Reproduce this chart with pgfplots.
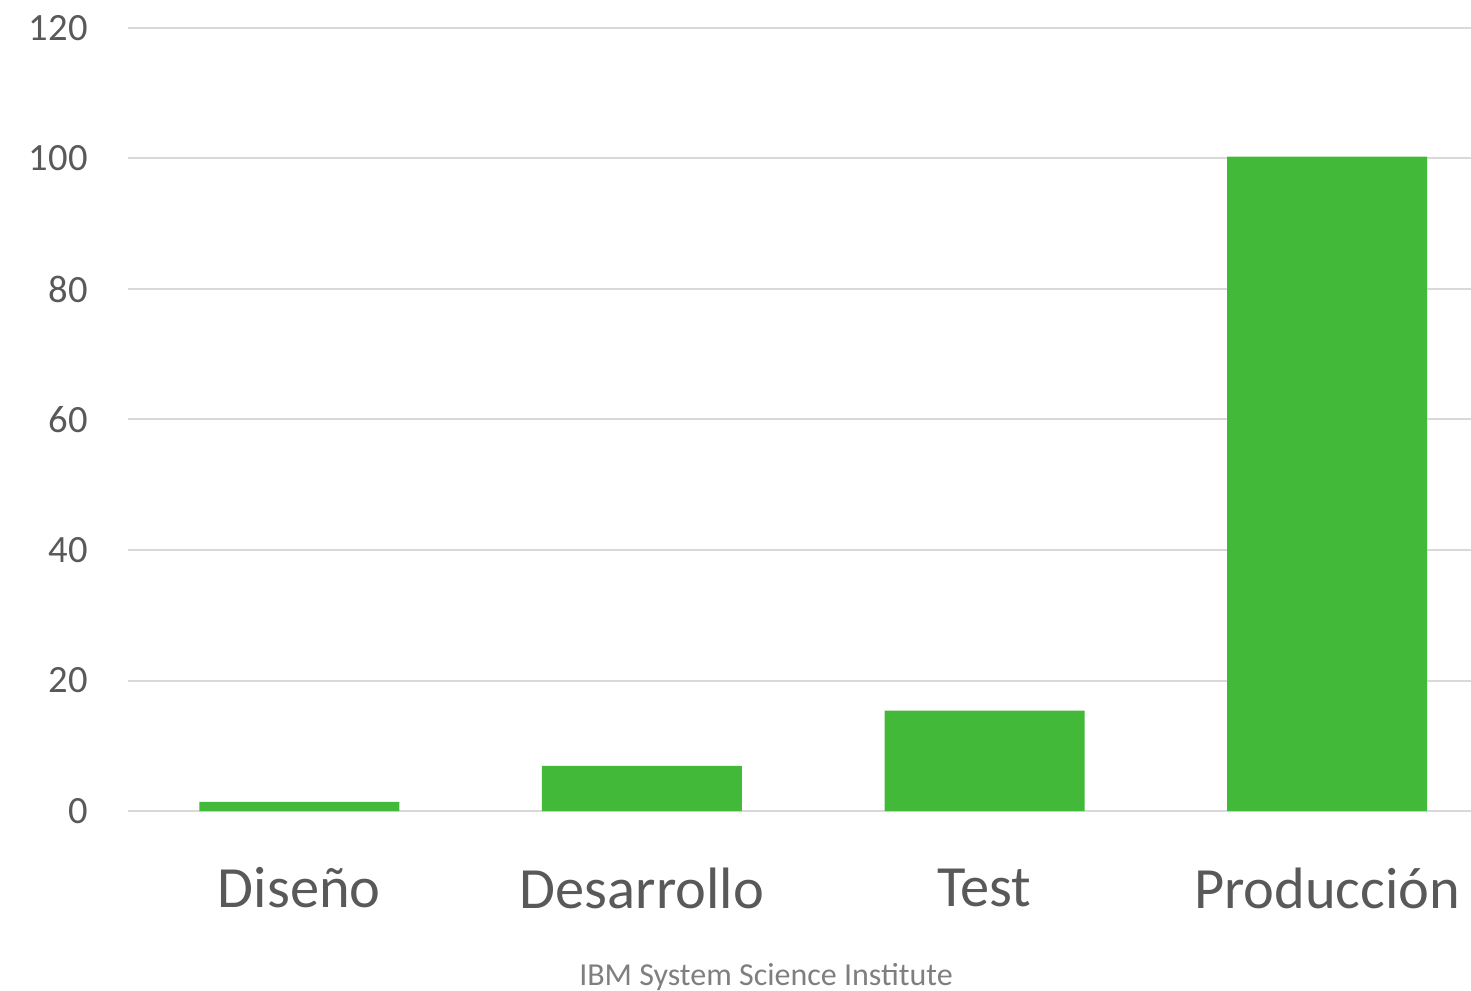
\documentclass[border=0pt]{standalone}
\usepackage{fontspec}
\setmainfont{Carlito}
\usepackage{pgfplots}
\pgfplotsset{compat=1.18}
\definecolor{bargreen}{HTML}{43B939}
\definecolor{txtgray}{HTML}{595959}
\definecolor{capgray}{HTML}{7F7F7F}
\definecolor{gridgray}{HTML}{D9D9D9}
\begin{document}
\begin{tikzpicture}
\useasboundingbox (-64bp,-90bp) rectangle (671.5bp,405.5bp);
\begin{axis}[
    at={(0,0)}, anchor=south west,
    scale only axis,
    width=671.5bp, height=391.5bp,
    xmin=-0.5, xmax=3.42,
    ymin=0, ymax=120,
    ytick={0,20,...,120},
    xtick={0,1,2,3},
    xticklabels={Diseño,Desarrollo,Test,Producción},
    axis line style={draw=none},
    major tick length=0pt,
    ymajorgrids,
    grid style={gridgray, line width=1bp},
    /pgf/number format/assume math mode=true,
    yticklabel style={font=\fontsize{19.3bp}{22bp}\selectfont, text=txtgray, anchor=east, inner sep=0pt, xshift=-20bp},
    xticklabel style={font=\fontsize{29.2bp}{34bp}\selectfont, text=txtgray, anchor=center, inner sep=0pt, yshift=-38.5bp},
    clip=false,
]
\addplot[ybar, bar width=100bp, fill=bargreen, draw=none] coordinates {
    (0,1.4) (1,6.9) (2,15.4) (3,100.3)
};
\end{axis}
\node[text=capgray, font=\fontsize{16bp}{19bp}\selectfont] at (319bp,-83bp) {IBM System Science Institute};
\end{tikzpicture}
\end{document}
